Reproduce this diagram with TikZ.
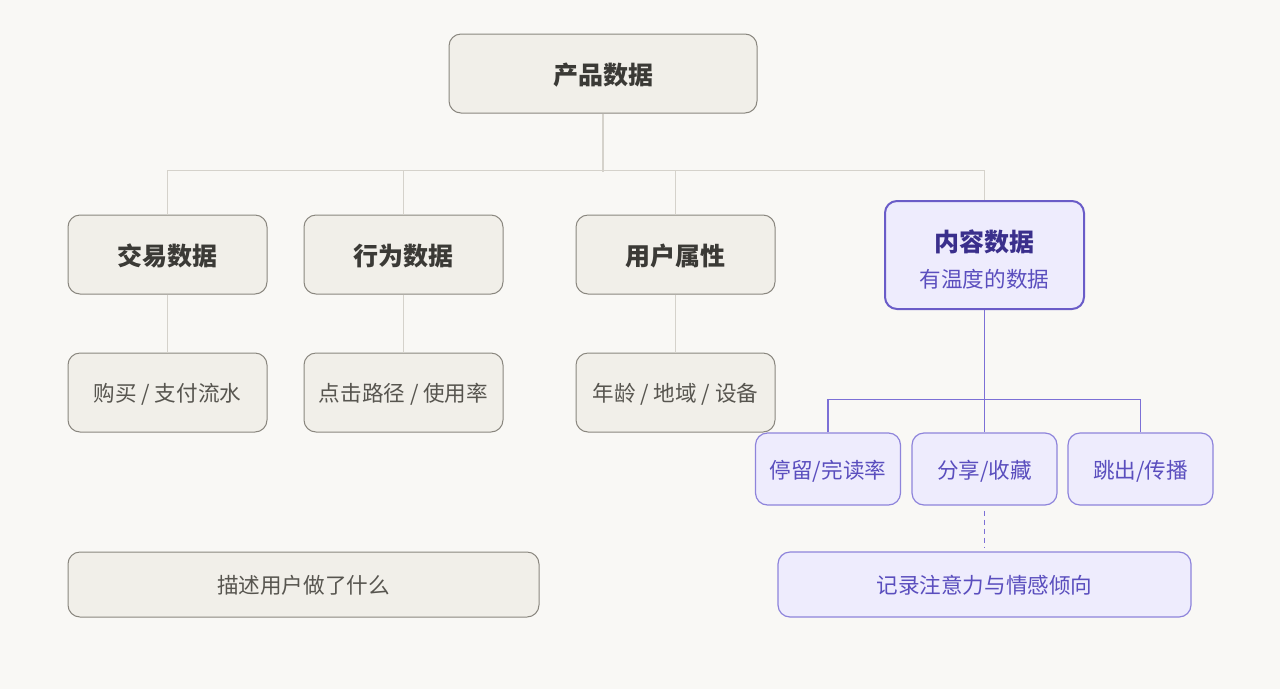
\documentclass[tikz,border=0pt]{standalone}
\usepackage{fontspec}
\newfontfamily\cjk{Noto Sans CJK SC}
\usepackage{tikz}
\definecolor{paper}{HTML}{F9F8F5}
\definecolor{boxfill}{HTML}{F1EFE9}
\definecolor{boxline}{HTML}{8A877F}
\definecolor{linkgray}{HTML}{D5D2CB}
\definecolor{inkdark}{HTML}{3B3A36}
\definecolor{inkmid}{HTML}{57554F}
\definecolor{lavfill}{HTML}{EEECFD}
\definecolor{lavline}{HTML}{6A5CC8}
\definecolor{lavsoft}{HTML}{8E84DB}
\definecolor{lavlink}{HTML}{7C70D6}
\definecolor{inkpurple}{HTML}{3A2F8C}
\definecolor{inklav}{HTML}{5A4EBE}
\tikzset{
  graybox/.style={draw=boxline, line width=1pt, fill=boxfill, rounded corners=12pt,
    minimum width=199pt, minimum height=79pt, inner sep=0pt, text depth=0pt},
  headtxt/.style={font=\cjk\bfseries\fontsize{25}{29}\selectfont, text=inkdark},
  subtxt/.style={font=\cjk\fontsize{21.6}{26}\selectfont, text=inkmid},
  lavbox/.style={draw=lavsoft, line width=1.2pt, fill=lavfill, rounded corners=12pt,
    minimum width=145pt, minimum height=72pt, inner sep=0pt, text depth=0pt,
    font=\cjk\fontsize{21.6}{26}\selectfont, text=inklav},
  conn/.style={draw=linkgray, line width=1.5pt},
  pconn/.style={draw=lavlink, line width=1.5pt}
}
\begin{document}
\begin{tikzpicture}[x=1pt,y=-1pt]
		%%%%% START %%%%%
		
		\fill[paper] (0, 0) rectangle (1280, 689);
		\useasboundingbox (0, 0) rectangle (1280, 689);
		
		% top
		\node[graybox, headtxt, minimum width=308pt] (top) at (603, 73.5) {产品数据};
		
		% second row
		\node[graybox, headtxt] (jy) at (167.5, 254.5) {交易数据};
		\node[graybox, headtxt] (xw) at (403.5, 254.5) {行为数据};
		\node[graybox, headtxt] (yh) at (675.5, 254.5) {用户属性};
		\node[graybox, draw=lavline, line width=2pt, fill=lavfill, minimum height=108pt,
			align=center, font=\cjk, text=inklav] (nr) at (984.5, 255)
			{{\bfseries\fontsize{25}{29}\selectfont\color{inkpurple}\rule{0pt}{29pt}内容数据}\\[14pt]
			 {\fontsize{21.6}{26}\selectfont 有温度的数据}};
		
		% third row
		\node[graybox, subtxt] (gm) at (167.5, 392.5) {购买 / 支付流水};
		\node[graybox, subtxt] (dj) at (403.5, 392.5) {点击路径 / 使用率};
		\node[graybox, subtxt] (nl) at (675.5, 392.5) {年龄 / 地域 / 设备};
		
		\node[lavbox] (tl) at (828, 469) {停留/完读率};
		\node[lavbox] (fx) at (984.5, 469) {分享/收藏};
		\node[lavbox] (tc) at (1140.5, 469) {跳出/传播};
		
		% bottom notes
		\node[graybox, subtxt, minimum width=471pt, minimum height=65pt] (ms) at (303.5, 584.5) {描述用户做了什么};
		\node[lavbox, minimum width=413pt, minimum height=65pt] (jl) at (984.5, 584.5) {记录注意力与情感倾向};
		
		% links
		\draw[conn] (top.south) -- ++(0, 58);
		\draw[conn] (jy.north) -- ++(0, -44) -| (nr.north);
		\draw[conn] (xw.north) -- ++(0, -44);
		\draw[conn] (yh.north) -- ++(0, -44);
		\draw[conn] (jy.south) -- (gm.north);
		\draw[conn] (xw.south) -- (dj.north);
		\draw[conn] (yh.south) -- (nl.north);
		
		\draw[pconn] (nr.south) -- (fx.north);
		\draw[pconn] (tl.north) -- ++(0, -33) -| (tc.north);
		\draw[pconn, dash pattern=on 5pt off 4pt, shorten <=5pt, shorten >=4pt] (fx.south) -- (jl.north);
		
		%%%%% END %%%%%
	\end{tikzpicture}
\end{document}
